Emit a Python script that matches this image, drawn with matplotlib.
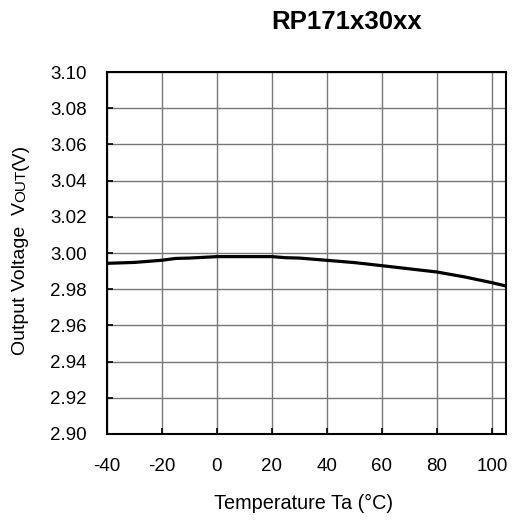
import matplotlib
matplotlib.use("Agg")
import matplotlib.pyplot as plt

plt.rcParams['font.family'] = ['Liberation Sans', 'DejaVu Sans']

temperature = [-40, -30, -20, -15, -10, 0, 20, 25, 30, 50, 60, 80, 90, 100, 105]
vout = [2.9943, 2.9948, 2.9960, 2.9970, 2.9972, 2.9980, 2.9980, 2.9974, 2.9972,
        2.9947, 2.9930, 2.9895, 2.9868, 2.9836, 2.9818]
xticks = [-40, -20, 0, 20, 40, 60, 80, 100]
yticks = [2.90, 2.92, 2.94, 2.96, 2.98, 3.00, 3.02, 3.04, 3.06, 3.08, 3.10]

fig = plt.figure(figsize=(5.13, 5.20), dpi=100)
ax = fig.add_axes([0.2086, 0.1654, 0.7772, 0.6961])
ax.plot(temperature, vout, color='black', lw=2.3, zorder=3)
ax.set_xlim(-40, 105)
ax.set_ylim(2.90, 3.10)
ax.set_xticks(xticks)
ax.set_yticks(yticks)
ax.set_xticklabels([str(t) for t in xticks])
ax.set_yticklabels([f"{v:.2f}" for v in yticks])
ax.grid(True, color='#777777', lw=1.0)
ax.tick_params(direction='in', length=4, width=1.2, labelsize=13.5, pad=14.5, colors='black')
ax.tick_params(axis='x', pad=17)
for s in ax.spines.values():
    s.set_linewidth(1.5)
    s.set_zorder(4)

fig.text(0.675, 0.958, "RP171x30xx", fontsize=18.5, fontweight='bold', ha='center', va='center')
fig.text(0.591, 0.022, "Temperature Ta (°C)", fontsize=14.3, ha='center', va='baseline')

# y label with small "OUT"
fig.canvas.draw()
renderer = fig.canvas.get_renderer()
inv = fig.transFigure.inverted()
xb = 0.049
y0 = 0.317
parts = [("Output Voltage  V", 14), ("OUT", 11), ("(V)", 14)]
for txt, fs in parts:
    t = fig.text(xb, y0, txt, fontsize=fs, rotation=90, rotation_mode='anchor',
                 ha='left', va='baseline')
    bb = t.get_window_extent(renderer)
    y0 = inv.transform((0, bb.y1))[1]

fig.savefig("out.png", dpi=100)
